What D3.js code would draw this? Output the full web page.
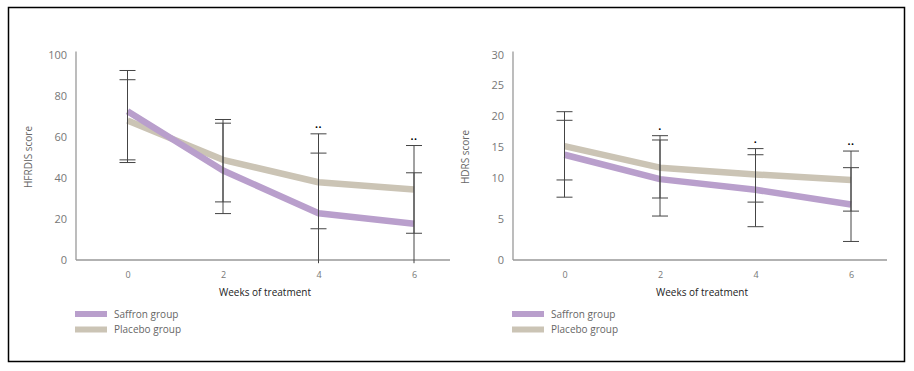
<!DOCTYPE html>
<html>
<head>
<meta charset="utf-8">
<script src="https://cdn.jsdelivr.net/npm/d3@7"></script>
<style>
  body { margin: 0; background: #fff; }
  text { font-family: "Open Sans", sans-serif; }
  .tick text { fill: #777; }
</style>
</head>
<body>
<div id="chart"></div>
<script>
// weeks on the x axis
var weeks = [0, 2, 4, 6];
var seriesNames = ["Saffron group", "Placebo group"];

// HFRDIS panel
var hfrdisSaffron = [72.3, 43.4, 22.6, 17.4];
var hfrdisPlacebo = [67.8, 48.6, 37.7, 34.1];
var hfrdisSaffronHi = [92.2, 66.5, 51.9, 42.3];
var hfrdisSaffronLo = [48.6, 22.4, -1.8, -1.8];
var hfrdisPlaceboHi = [87.7, 68.3, 61.3, 55.6];
var hfrdisPlaceboLo = [47.3, 28.1, 15.0, 12.8];
var hfrdisStars = ["", "", "••", "••"];
var hfrdisTicks = [0, 20, 40, 60, 80, 100];

// HDRS panel
var hdrsSaffron = [13.7, 9.8, 8.5, 6.7];
var hdrsPlacebo = [15.1, 11.6, 10.5, 9.7];
var hdrsSaffronHi = [19.3, 16.1, 13.7, 11.6];
var hdrsSaffronLo = [7.6, 5.3, 4.0, 2.2];
var hdrsPlaceboHi = [20.7, 16.8, 14.7, 14.3];
var hdrsPlaceboLo = [9.7, 7.5, 7.0, 5.9];
var hdrsStars = ["", "•", "•", "••"];
var hdrsTicks = [0, 5, 10, 15, 20, 25, 30];

var colors = ["#b99fcc", "#cbc4b5"];

const svg = d3.select("#chart")
    .append("svg")
    .attr("width", 914)
    .attr("height", 371);

// outer frame
svg.append("rect")
    .attr("x", 8.5).attr("y", 7.5)
    .attr("width", 896).attr("height", 354)
    .attr("fill", "none")
    .attr("stroke", "#000")
    .attr("stroke-width", 1.5);

drawPanel({
    left: 76,
    title: "HFRDIS score",
    domain: [0, 100],
    stops: [0, 1],
    ticks: hfrdisTicks,
    series: [hfrdisSaffron, hfrdisPlacebo],
    hi: [hfrdisSaffronHi, hfrdisPlaceboHi],
    lo: [hfrdisSaffronLo, hfrdisPlaceboLo],
    stars: hfrdisStars
});

// the HDRS axis in the figure is not evenly spaced below 10
drawPanel({
    left: 513,
    title: "HDRS score",
    domain: [0, 5, 10, 30],
    stops: [0, 0.2, 0.4, 1],
    ticks: hdrsTicks,
    series: [hdrsSaffron, hdrsPlacebo],
    hi: [hdrsSaffronHi, hdrsPlaceboHi],
    lo: [hdrsSaffronLo, hdrsPlaceboLo],
    stars: hdrsStars
});

function drawPanel(cfg) {
    const top = 54.5, height = 205, width = 374;

    const g = svg.append("g")
        .attr("transform", `translate(${cfg.left},${top})`);

    const xScale = d3.scaleLinear()
        .domain([0, 6])
        .range([51.5, 338]);

    const yScale = d3.scaleLinear()
        .domain(cfg.domain)
        .range(cfg.stops.map(s => height - s * height));

    // axes without tick marks
    const yAxis = d3.axisLeft(yScale).tickValues(cfg.ticks).tickSize(0).tickPadding(9);
    const xAxis = d3.axisBottom(xScale).tickValues(weeks).tickFormat(d3.format("d"))
        .tickSize(0).tickPadding(12);

    const yg = g.append("g").call(yAxis);
    yg.select(".domain").remove();
    yg.selectAll("text").style("font-size", "11px");

    const xg = g.append("g")
        .attr("transform", `translate(0,${height})`)
        .call(xAxis);
    xg.select(".domain").remove();
    xg.selectAll("text").style("font-size", "9px");

    g.append("line")
        .attr("x1", 0).attr("x2", 0)
        .attr("y1", -3).attr("y2", height + 0.5)
        .attr("stroke", "#999").attr("stroke-width", 1.3);
    g.append("line")
        .attr("x1", 0).attr("x2", width)
        .attr("y1", height + 0.5).attr("y2", height + 0.5)
        .attr("stroke", "#999").attr("stroke-width", 1.3);

    // axis labels
    g.append("text")
        .attr("x", -height / 2)
        .attr("y", -48)
        .attr("transform", "rotate(-90)")
        .attr("dy", "0.35em")
        .style("text-anchor", "middle")
        .style("font-size", "10px")
        .style("fill", "#666")
        .text(cfg.title);

    g.append("text")
        .attr("x", 189)
        .attr("y", height + 36)
        .style("text-anchor", "middle")
        .style("font-size", "10px")
        .style("fill", "#222")
        .text("Weeks of treatment");

    // lines, placebo under saffron
    const line = d3.line()
        .x((d, i) => xScale(weeks[i]))
        .y(d => yScale(d));

    [1, 0].forEach(function(k) {
        g.append("path")
            .datum(cfg.series[k])
            .attr("fill", "none")
            .attr("stroke", colors[k])
            .attr("stroke-width", 6.5)
            .attr("stroke-linejoin", "round")
            .attr("d", line);
    });

    // error bars
    [0, 1].forEach(function(k) {
        weeks.forEach(function(w, i) {
            const x = xScale(w);
            const hi = cfg.hi[k][i], lo = cfg.lo[k][i];
            g.append("line")
                .attr("x1", x).attr("x2", x)
                .attr("y1", yScale(hi)).attr("y2", yScale(lo))
                .attr("stroke", "#444").attr("stroke-width", 1);
            [hi, lo].forEach(function(v) {
                if (v < 0) return;
                g.append("line")
                    .attr("x1", x - 8).attr("x2", x + 8)
                    .attr("y1", yScale(v)).attr("y2", yScale(v))
                    .attr("stroke", "#444").attr("stroke-width", 1);
            });
        });
    });

    // significance marks
    weeks.forEach(function(w, i) {
        if (!cfg.stars[i]) return;
        const topVal = Math.max(cfg.hi[0][i], cfg.hi[1][i]);
        g.append("text")
            .attr("x", xScale(w))
            .attr("y", yScale(topVal) - 4)
            .style("text-anchor", "middle")
            .style("font-size", "8px")
            .style("letter-spacing", "0.5px")
            .style("fill", "#000")
            .text(cfg.stars[i]);
    });

    // legend
    seriesNames.forEach(function(name, k) {
        const ly = height + 54.5 + k * 15.5;
        g.append("rect")
            .attr("x", -1).attr("y", ly - 3)
            .attr("width", 32).attr("height", 6)
            .attr("fill", colors[k]);
        g.append("text")
            .attr("x", 38).attr("y", ly)
            .attr("dy", "0.35em")
            .style("font-size", "10px")
            .style("fill", "#666")
            .text(name);
    });
}
</script>
</body>
</html>
